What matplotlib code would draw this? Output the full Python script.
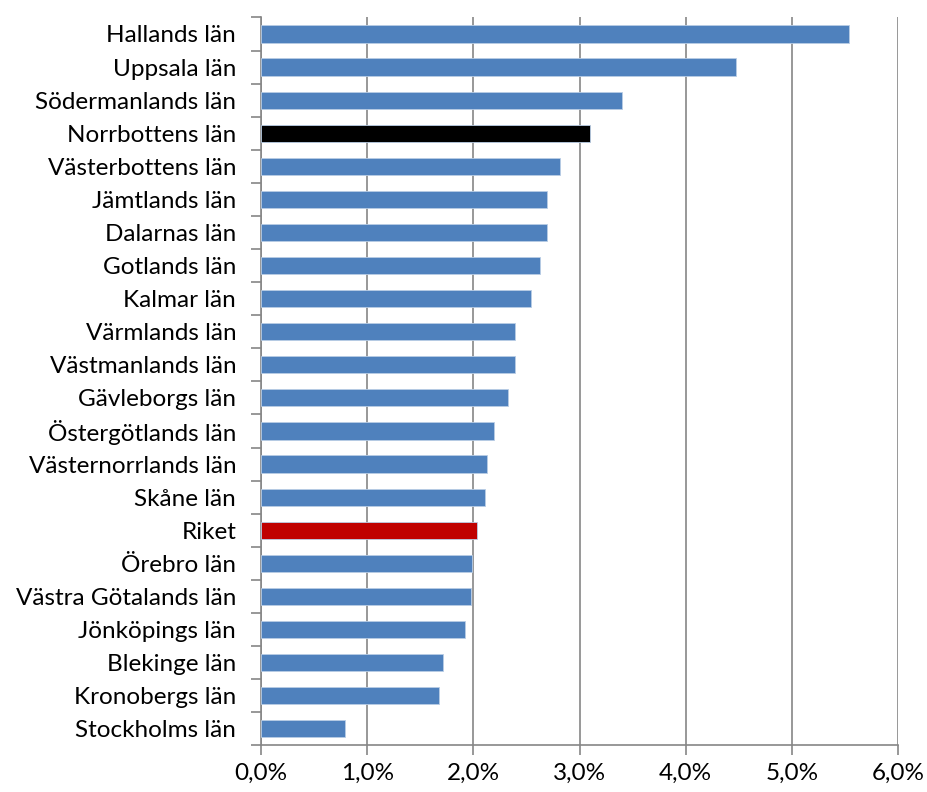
import numpy as np
import matplotlib.pyplot as plt
from matplotlib.ticker import FuncFormatter

plt.rcParams['font.family'] = ['Lato', 'DejaVu Sans']

# ============ Data (percent) ============
lan = ["Hallands län", "Uppsala län", "Södermanlands län", "Norrbottens län",
       "Västerbottens län", "Jämtlands län", "Dalarnas län", "Gotlands län",
       "Kalmar län", "Värmlands län", "Västmanlands län", "Gävleborgs län",
       "Östergötlands län", "Västernorrlands län", "Skåne län", "Riket",
       "Örebro län", "Västra Götalands län", "Jönköpings län", "Blekinge län",
       "Kronobergs län", "Stockholms län"]
andel = [5.54, 4.47, 3.40, 3.10, 2.82, 2.69, 2.69, 2.63, 2.54, 2.39, 2.39,
         2.33, 2.19, 2.13, 2.11, 2.03, 1.99, 1.98, 1.92, 1.71, 1.68, 0.79]
highlight = {"Norrbottens län": "black", "Riket": "#C00000"}

fig = plt.figure(figsize=(9.28, 7.92), dpi=100)
ax = fig.add_axes([0.2815, 0.059, 0.686, 0.919])

n = len(lan)
ypos = np.arange(n)
colors = [highlight.get(l, "#4F81BD") for l in lan]
ax.barh(ypos, andel, height=0.52, color=colors, edgecolor="#B9CDE5",
        linewidth=0.6, zorder=3)

ax.set_ylim(n - 0.5, -0.5)
ax.set_xlim(0, 6)

# category boundary ticks, labels at centres
ax.set_yticks(np.arange(n + 1) - 0.5)
ax.set_yticklabels([])
ax.set_yticks(ypos, minor=True)
ax.set_yticklabels(lan, minor=True, fontsize=17.5)
ax.tick_params(axis='y', which='minor', length=0, pad=18)
ax.tick_params(axis='y', which='major', length=7, width=1.2, color='#868686')

ax.set_xticks(np.arange(0, 7))
ax.xaxis.set_major_formatter(FuncFormatter(lambda v, p: f"{v:.1f}%".replace('.', ',')))
ax.tick_params(axis='x', length=7, width=1.2, color='#868686', labelsize=17.5, pad=6)

ax.grid(axis='x', color='#868686', linewidth=1.2, zorder=0)
for s in ['top', 'right']:
    ax.spines[s].set_visible(False)
for s in ['left', 'bottom']:
    ax.spines[s].set_color('#868686')
    ax.spines[s].set_linewidth(1.2)

fig.savefig("out.png", dpi=100)
